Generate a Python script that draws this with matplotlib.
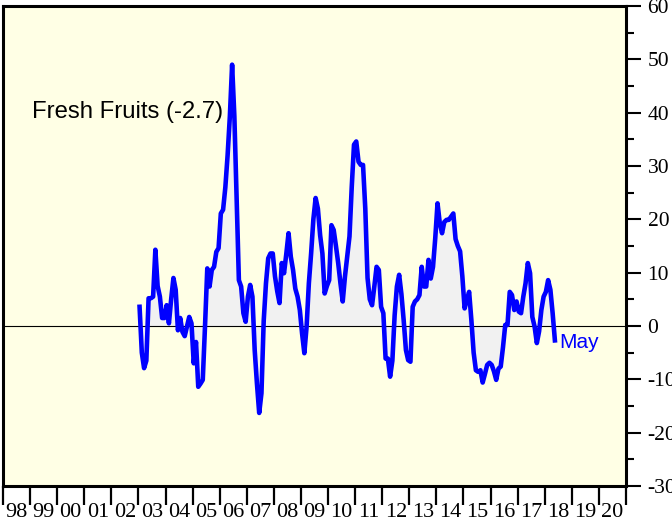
import matplotlib
matplotlib.use("Agg")
import matplotlib.pyplot as plt
import numpy as np

# Monthly values, Jan 2003 .. May 2018
values_2003 = [3.6, -5.0, -7.9, -6.5, 5.2, 5.2, 5.5, 14.3, 7.5, 5.5, 1.5, 1.5]
values_2004 = [3.9, 0.5, 5.0, 9.0, 6.8, -0.8, 1.5, -1.1, -1.9, -0.1, 1.7, 0.5]
values_2005 = [-7.0, -3.0, -11.4, -10.8, -10.1, 0.0, 10.8, 7.4, 10.5, 11.1, 13.9, 14.6]
values_2006 = [21.1, 21.8, 26.0, 32.0, 39.3, 49.0, 39.3, 23.6, 8.6, 7.4, 2.4, 0.8]
values_2007 = [5.5, 7.7, 5.5, -4.5, -10.8, -16.3, -12.6, 1.0, 8.0, 12.7, 13.6, 13.6]
values_2008 = [9.3, 6.5, 4.3, 11.8, 9.9, 13.5, 17.4, 13.0, 10.5, 7.0, 5.5, 3.0]
values_2009 = [-1.4, -5.1, -0.1, 8.0, 13.6, 20.0, 24.0, 22.0, 17.0, 13.6, 6.1, 7.5]
values_2010 = [8.6, 18.9, 18.0, 15.0, 11.8, 8.0, 4.6, 9.3, 13.0, 16.8, 26.1, 34.0]
values_2011 = [34.6, 30.8, 30.2, 30.2, 22.0, 9.0, 5.0, 3.9, 7.4, 11.1, 10.5, 3.6]
values_2012 = [2.4, -6.1, -6.1, -9.5, -6.5, 2.0, 7.4, 9.6, 6.0, 1.1, -4.5, -6.4]
values_2013 = [-6.7, 3.6, 4.6, 5.0, 5.8, 11.1, 7.4, 7.4, 12.4, 8.9, 11.1, 16.5]
values_2014 = [23.0, 19.3, 17.4, 19.5, 19.9, 19.9, 20.5, 21.1, 16.3, 15.0, 14.0, 9.3]
values_2015 = [3.3, 4.9, 6.4, 1.1, -5.0, -8.3, -8.6, -8.3, -10.6, -9.0, -7.3, -6.9]
values_2016 = [-7.3, -8.5, -10.1, -8.0, -7.6, -4.0, 0.2, 0.2, 6.4, 5.8, 3.0, 4.6]
values_2017 = [2.7, 2.4, 5.5, 8.0, 11.8, 9.9, 1.7, -0.1, -3.2, -1.0, 3.0, 5.5]
values_2018 = [6.4, 8.6, 6.8, 2.4, -2.7]

start_year = 2003
series_name = "Fresh Fruits"
last_month_label = "May"
year_labels = list(range(1998, 2021))
y_ticks = list(range(-30, 61, 10))

values = np.array(values_2003 + values_2004 + values_2005 + values_2006 + values_2007 +
                  values_2008 + values_2009 + values_2010 + values_2011 + values_2012 +
                  values_2013 + values_2014 + values_2015 + values_2016 + values_2017 +
                  values_2018)
t = start_year + (np.arange(len(values)) + 0.5) / 12.0

fig = plt.figure(figsize=(6.72, 5.2), dpi=100)
ax = fig.add_axes([3 / 672, 34 / 520, 623 / 672, 480 / 520])
ax.set_facecolor("#FFFFE5")

ax.fill_between(t, values, 0, color="#F1F1F1", zorder=1, linewidth=0)
ax.axhline(0, color="black", lw=0.8, zorder=2)
ax.plot(t, values, color="#0000FF", lw=3.3, zorder=3)

ax.set_xlim(year_labels[0], year_labels[-1] + 1)
ax.set_ylim(-30, 60)

for s in ax.spines.values():
    s.set_linewidth(2.2)
    s.set_color("black")

# Right y-axis
ax.yaxis.tick_right()
ax.set_yticks(y_ticks)
ax.set_yticks(list(range(-25, 60, 10)), minor=True)
ax.set_yticklabels([str(v) for v in y_ticks], family="Liberation Serif", fontsize=15.5)
ax.tick_params(axis="y", which="major", length=10.5, width=1.5, pad=5, direction="out")
ax.tick_params(axis="y", which="minor", length=6, width=1.5, direction="out")

# Bottom x-axis: year boundaries as ticks, labels between
ax.set_xticks(list(range(year_labels[0], year_labels[-1] + 2)))
ax.set_xticklabels([])
ax.set_xticks([y + 0.5 for y in year_labels], minor=True)
ax.set_xticklabels(["%02d" % (y % 100) for y in year_labels], minor=True,
                   family="Liberation Serif", fontsize=16)
ax.tick_params(axis="x", which="major", length=14, width=1.6, direction="out")
ax.tick_params(axis="x", which="minor", length=0, pad=12.5)

ax.text(1999.07, 40.2, "%s (%.1f)" % (series_name, values[-1]),
        family="Liberation Sans", fontsize=17.2, va="center", ha="left")
ax.annotate(last_month_label, xy=(t[-1], values[-1]), xytext=(3, -1.5),
            textcoords="offset points", color="#0000FF", family="Liberation Sans",
            fontsize=15, va="center", ha="left")

fig.savefig("out.png", dpi=100, facecolor="white")
